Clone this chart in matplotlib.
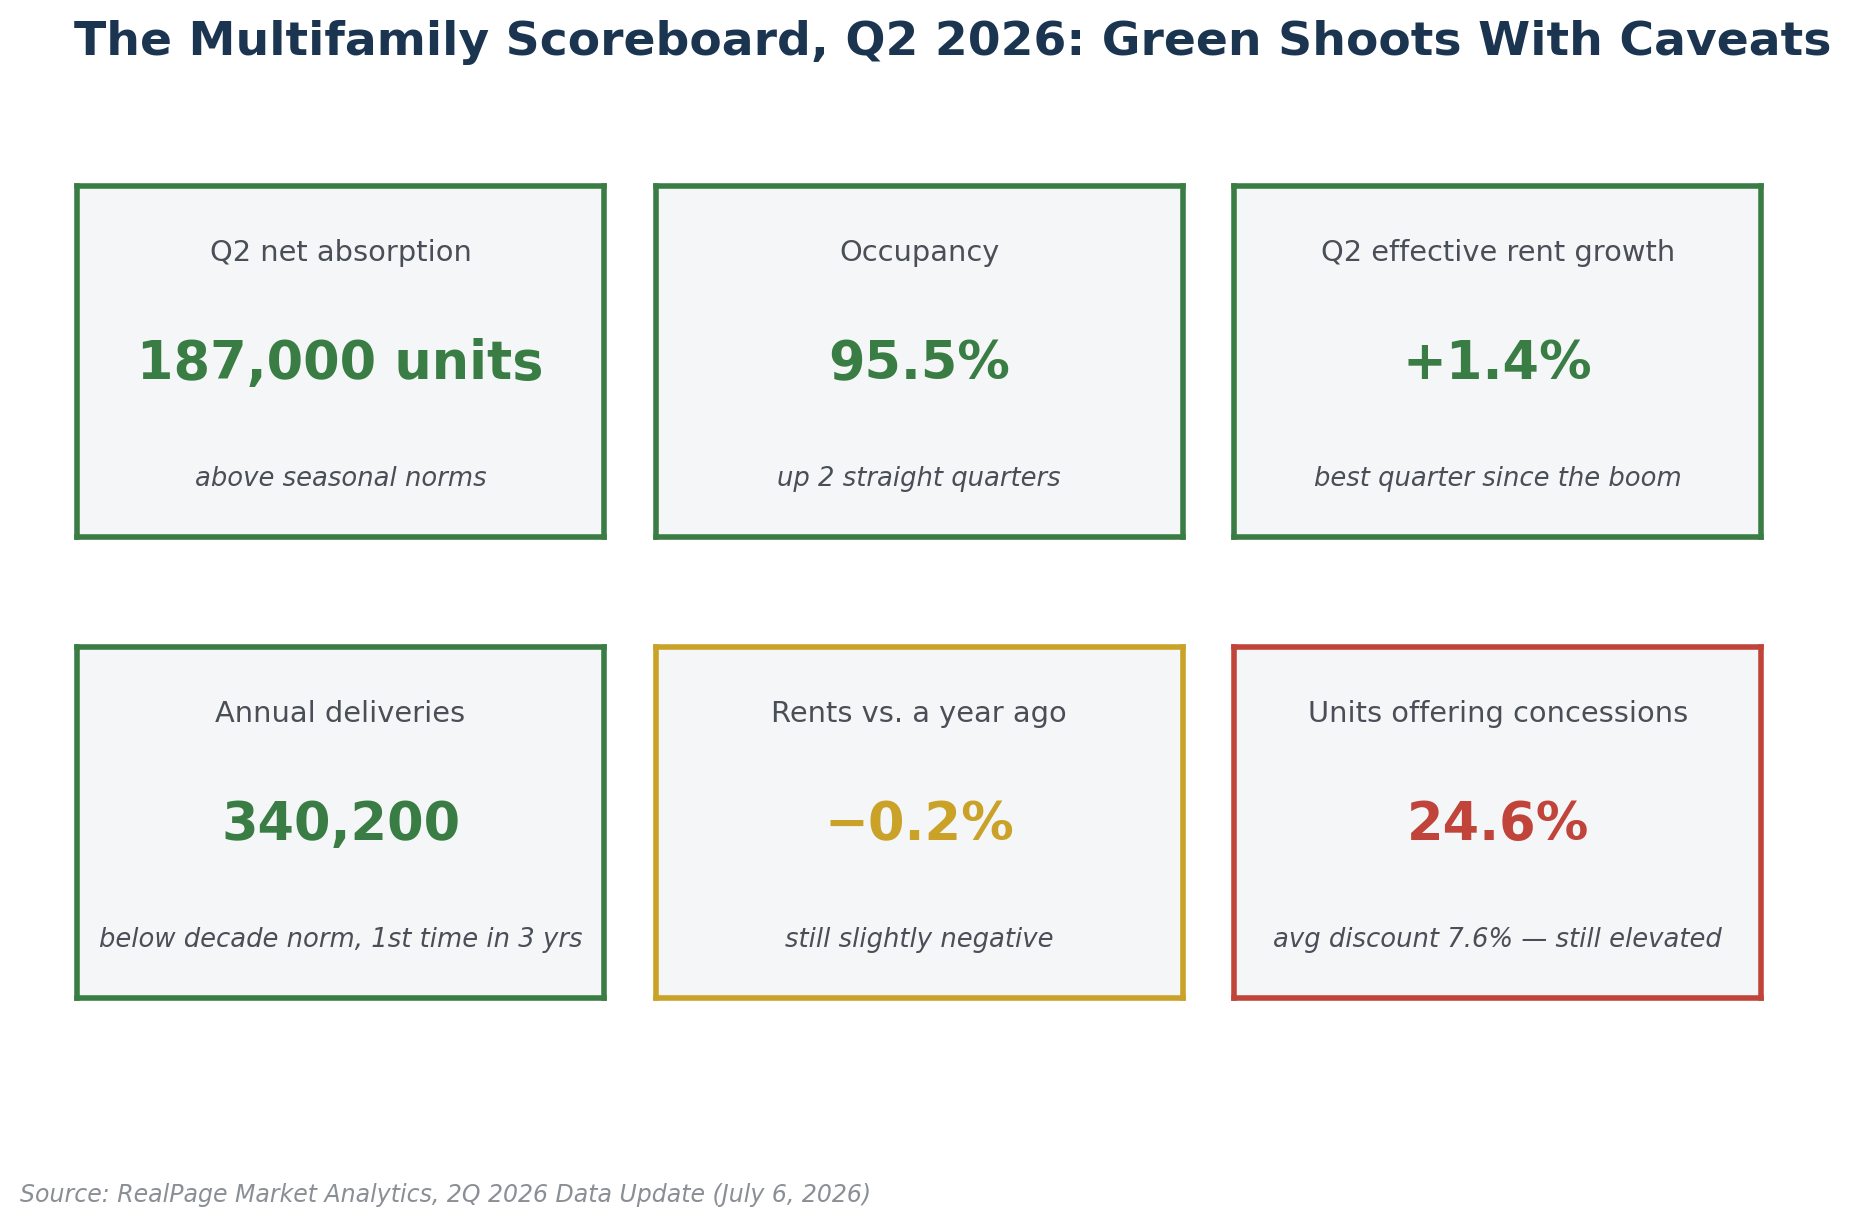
import matplotlib
matplotlib.use('Agg')
import matplotlib.pyplot as plt

# scoreboard content
labels = ['Q2 net absorption', 'Occupancy', 'Q2 effective rent growth',
          'Annual deliveries', 'Rents vs. a year ago', 'Units offering concessions']
values = ['187,000 units', '95.5%', '+1.4%', '340,200', '\u22120.2%', '24.6%']
notes = ['above seasonal norms', 'up 2 straight quarters', 'best quarter since the boom',
         'below decade norm, 1st time in 3 yrs', 'still slightly negative',
         'avg discount 7.6% \u2014 still elevated']
status = ['good', 'good', 'good', 'good', 'mixed', 'bad']

colors = {'good': '#3a7d44', 'mixed': '#c9a227', 'bad': '#c0443a'}

fig, axs = plt.subplots(2, 3, figsize=(18.52, 12.26), dpi=100)
fig.subplots_adjust(left=0.0416, right=0.951, top=0.848, bottom=0.186,
                    wspace=0.098, hspace=0.314)

for ax, lab, val, note, st in zip(axs.flat, labels, values, notes, status):
    c = colors[st]
    ax.set_facecolor('#f4f6f8')
    ax.set_xticks([])
    ax.set_yticks([])
    for sp in ax.spines.values():
        sp.set_color(c)
        sp.set_linewidth(4)
    ax.text(0.5, 0.81, lab, ha='center', va='center', fontsize=20.8,
            color='#4a4f57', transform=ax.transAxes)
    ax.text(0.5, 0.493, val, ha='center', va='center', fontsize=37.8,
            fontweight='bold', color=c, transform=ax.transAxes)
    ax.text(0.5, 0.165, note, ha='center', va='center', fontsize=18.6,
            style='italic', color='#4a4f57', transform=ax.transAxes)

fig.text(0.04, 0.965, 'The Multifamily Scoreboard, Q2 2026: Green Shoots With Caveats',
         ha='left', va='center', fontsize=34, fontweight='bold', color='#1b3550')
fig.text(0.011, 0.025, 'Source: RealPage Market Analytics, 2Q 2026 Data Update (July 6, 2026)',
         ha='left', va='center', fontsize=17, style='italic', color='#8a8e95')

fig.savefig('out.png', dpi=100)
